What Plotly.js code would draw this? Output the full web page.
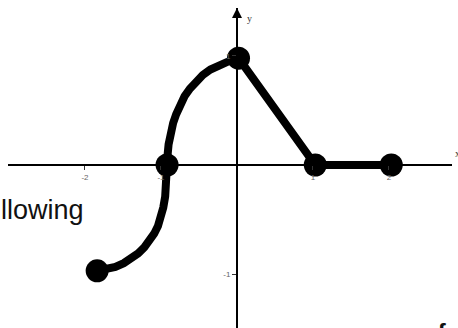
<!DOCTYPE html>
<html>
<head>
<meta charset="utf-8">
<script src="https://cdn.plot.ly/plotly-3.0.1.min.js"></script>
<style>html,body{margin:0;padding:0;background:#fff;}#chart{width:458px;height:328px;}</style>
</head>
<body>
<div id="chart"></div>
<script>
// curved piece from the left endpoint through (-1,0) up to (0,1)
var curveX = [-1.84, -1.72, -1.60, -1.49, -1.39, -1.30, -1.22, -1.15, -1.09, -1.04, -1.00, -0.97, -0.945, -0.93, -0.922, -0.92,
              -0.915, -0.90, -0.875, -0.84, -0.80, -0.75, -0.69, -0.62, -0.54, -0.45, -0.35, -0.24, -0.12, 0.02];
var curveY = [-0.97, -0.958, -0.935, -0.90, -0.86, -0.81, -0.755, -0.695, -0.63, -0.56, -0.48, -0.39, -0.29, -0.19, -0.09, 0.00,
              0.08, 0.19, 0.29, 0.385, 0.465, 0.55, 0.63, 0.70, 0.765, 0.825, 0.875, 0.915, 0.948, 0.98];
// straight pieces
var lineX = [0.02, 1.03, 2.03];
var lineY = [0.98, 0.00, 0.00];
// solid dots
var dotX = [-1.84, -0.92, 0.02, 1.03, 2.03];
var dotY = [-0.97, 0.00, 0.98, 0.00, 0.00];
// tick labels
var xTickVals = [-2, -1, 1, 2];
var xTickText = ['-2', '-1', '1', '2'];
var yTickVals = [-1, 1];
var yTickText = ['-1', '1'];

var traces = [
  {x: curveX, y: curveY, mode: 'lines', line: {color: '#000', width: 8, shape: 'linear'}, hoverinfo: 'skip'},
  {x: lineX, y: lineY, mode: 'lines', line: {color: '#000', width: 8}, hoverinfo: 'skip'},
  {x: dotX, y: dotY, mode: 'markers', marker: {color: '#000', size: 23}, hoverinfo: 'skip'}
];

var layout = {
  width: 458, height: 328,
  margin: {l: 8, r: 6, t: 8, b: 0},
  paper_bgcolor: '#fff', plot_bgcolor: '#fff',
  showlegend: false,
  xaxis: {
    range: [-3.013, 2.829], anchor: 'free', position: 0.509,
    showgrid: false, zeroline: false, showline: true, linecolor: '#000', linewidth: 2,
    tickvals: xTickVals, ticktext: xTickText, ticks: 'outside', ticklen: 4, tickcolor: '#333',
    tickfont: {family: 'Liberation Sans, Arial', size: 8, color: '#666'}
  },
  yaxis: {
    range: [-1.495, 1.440], anchor: 'free', position: 0.5158,
    showgrid: false, zeroline: false, showline: true, linecolor: '#000', linewidth: 2,
    tickvals: yTickVals, ticktext: yTickText, ticks: 'outside', ticklen: 4, tickcolor: '#333',
    tickfont: {family: 'Liberation Sans, Arial', size: 8, color: '#666'}
  },
  annotations: [
    {xref: 'x', yref: 'paper', x: 0, y: 1, ax: 0, ay: 14, axref: 'pixel', ayref: 'pixel', text: '', showarrow: true, arrowhead: 2, arrowsize: 1, arrowwidth: 2, arrowcolor: '#000'},
    {xref: 'paper', yref: 'paper', x: 0.545, y: 0.99, xanchor: 'center', yanchor: 'top', text: 'y', showarrow: false, font: {family: 'Liberation Serif', size: 10, color: '#333'}},
    {xref: 'paper', yref: 'paper', x: 1.012, y: 0.545, xanchor: 'center', yanchor: 'middle', text: 'x', showarrow: false, font: {family: 'Liberation Serif', size: 10, color: '#333'}},
    {xref: 'paper', yref: 'paper', x: -0.003, y: 0.37, xanchor: 'right', yanchor: 'middle', text: 'llowing', showarrow: false, font: {family: 'Liberation Sans, Arial', size: 27, color: '#111'}, xshift: 79},
    {xref: 'paper', yref: 'paper', x: 0.93, y: -0.01, xanchor: 'left', yanchor: 'top', yshift: 14, text: '<b>of</b>', showarrow: false, font: {family: 'Liberation Sans, Arial', size: 24, color: '#111'}}
  ]
};

Plotly.newPlot('chart', traces, layout, {staticPlot: true, displayModeBar: false});
</script>
</body>
</html>
